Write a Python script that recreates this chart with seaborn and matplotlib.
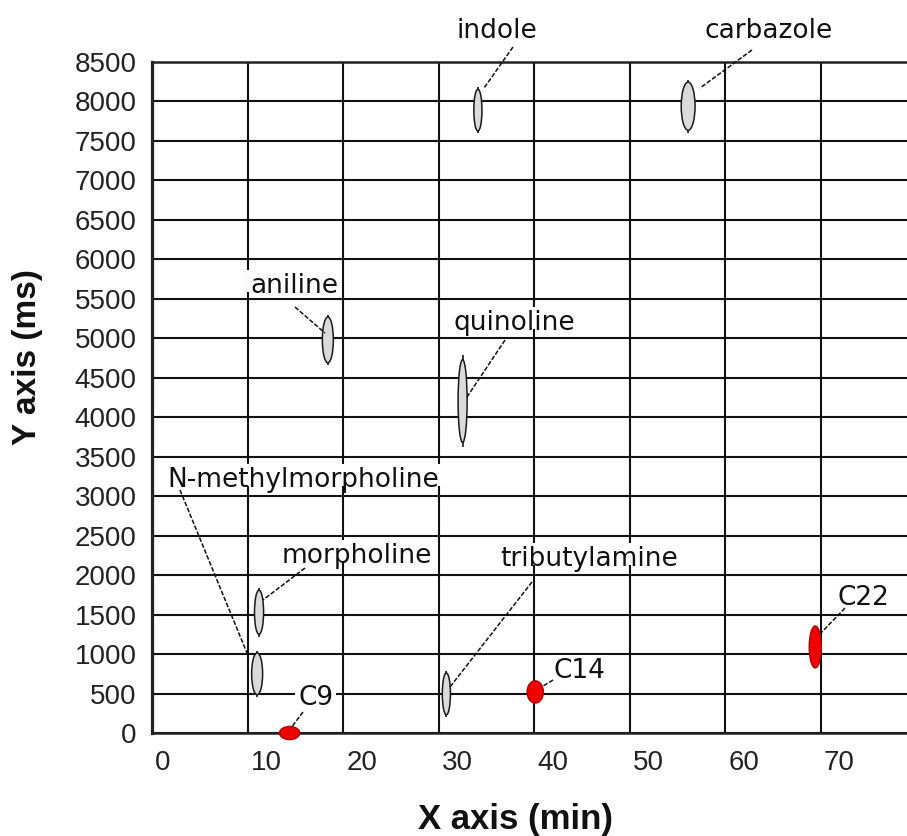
import matplotlib
matplotlib.use("Agg")
import matplotlib.pyplot as plt
import matplotlib.transforms as mtransforms
from matplotlib.patches import Ellipse, Rectangle
import seaborn as sns

# ---------------- data ----------------
compounds = ["indole", "carbazole", "aniline", "quinoline", "N-methylmorpholine",
             "morpholine", "tributylamine", "C9", "C14", "C22"]
x_min = [34.1, 56.1, 18.4, 32.5, 11.0, 11.2, 30.8, 14.4, 40.1, 69.4]
y_ms = [7890, 7940, 4980, 4205, 750, 1530, 495, 0, 520, 1090]
spot_width_min = [0.85, 1.45, 1.15, 0.95, 1.15, 0.95, 0.85, 2.1, 1.7, 1.25]
spot_height_ms = [530, 610, 580, 1050, 530, 560, 530, 165, 280, 530]
is_alkane = [False, False, False, False, False, False, False, True, True, True]

x_ticks = [0, 10, 20, 30, 40, 50, 60, 70]
y_ticks = list(range(0, 8501, 500))
x_label = "X axis (min)"
y_label = "Y axis (ms)"

# label layout (text anchor: left / baseline) and leader lines
label_pos = [(31.81, 8803), (57.86, 8803), (10.25, 5573), (31.50, 5105), (1.57, 3116),
             (13.60, 2153), (36.41, 2115), (15.28, 355), (41.96, 697), (71.68, 1621)]
leader_start = [(37.77, 8690), (62.78, 8652), (14.96, 5396), (36.94, 4978), (2.93, 3078),
                (16.01, 2090), (39.76, 1913), (15.80, 266), (41.96, 671), (72.51, 1583)]
leader_end = [(34.74, 8170), (57.34, 8170), (18.10, 5067), (32.96, 4256), (9.94, 1013),
              (11.61, 1685), (31.18, 583), (14.54, 63), (40.91, 595), (70.0, 1267)]

# ---------------- style ----------------
sns.set_theme(style="white")
plt.rcParams["font.family"] = ["DejaVu Sans"]

fig = plt.figure(figsize=(9.07, 8.36), dpi=100)
ax = fig.add_axes([152 / 907, 1 - 733 / 836, 1 - 152 / 907, (733 - 62) / 836])

ax.set_xlim(0, 79.0)
ax.set_ylim(0, 8500)

ax.set_xticks(x_ticks, labels=[str(t) for t in x_ticks])
ax.set_yticks(y_ticks, labels=[str(t) for t in y_ticks])
ax.tick_params(axis="both", length=0, labelsize=20, labelcolor="#222222")
ax.tick_params(axis="x", pad=12)
ax.tick_params(axis="y", pad=11)
for lab in ax.get_xticklabels() + ax.get_yticklabels():
    lab.set_fontfamily("Liberation Sans")
offset = mtransforms.ScaledTranslation(3 / 100, 0, fig.dpi_scale_trans)
for lab in ax.get_xticklabels():
    lab.set_horizontalalignment("left")
    lab.set_transform(lab.get_transform() + offset)

ax.set_axisbelow(True)
ax.grid(True, color="#111111", linewidth=1.5)
sns.despine(ax=ax, top=False, right=True, left=False, bottom=False)
for side in ["left", "bottom", "top"]:
    ax.spines[side].set_color("#222222")
    ax.spines[side].set_linewidth(1.8)
ax.spines["left"].set_linewidth(2.3)

# ---------------- spots ----------------
for xi, yi, w, h, alk in zip(x_min, y_ms, spot_width_min, spot_height_ms, is_alkane):
    if alk:
        fc, ec = "#f00000", "#b00000"
    else:
        fc, ec = "#dadada", "#1a1a1a"
    e = Ellipse((xi, yi), w, h, facecolor=fc, edgecolor=ec, linewidth=1.1,
                zorder=3, clip_on=False)
    ax.add_patch(e)
    if not alk:
        for s in (1, -1):
            ax.plot([xi, xi], [yi + s * h / 2, yi + s * h / 2 * 1.1], color="#1a1a1a",
                    linewidth=1.2, zorder=3, solid_capstyle="butt")

# ---------------- labels + leaders ----------------
texts = []
for name, (tx, ty), (sx, sy), (ex, ey) in zip(compounds, label_pos, leader_start, leader_end):
    t = ax.text(tx, ty, name, fontsize=19, color="#111111", ha="left", va="baseline",
                zorder=4, clip_on=False)
    texts.append(t)
    ax.plot([sx, ex], [sy, ey], color="#111111", linewidth=1.1, linestyle=(0, (3, 1.2)),
            zorder=5, clip_on=False)

# white masks behind labels (from baseline upward, as in the original figure)
fig.canvas.draw()
renderer = fig.canvas.get_renderer()
inv = ax.transData.inverted()
for t, (tx, ty) in zip(texts, label_pos):
    bb = t.get_window_extent(renderer=renderer)
    base_y = ax.transData.transform((tx, ty))[1]
    x0, y0 = inv.transform((bb.x0 - 3, base_y + 1))
    x1, y1 = inv.transform((bb.x1 + 3, bb.y1 + 3))
    ax.add_patch(Rectangle((x0, y0), x1 - x0, y1 - y0, facecolor="white",
                           edgecolor="none", zorder=2.2, clip_on=False))

# ---------------- axis titles ----------------
fig.text(28 / 907, 1 - 357 / 836, y_label, rotation=90, ha="center", va="center",
         fontsize=24, fontweight="bold", family="Liberation Sans", color="#111111")
fig.text(515 / 907, 1 - 829 / 836, x_label, ha="center", va="baseline",
         fontsize=25, fontweight="bold", family="Liberation Sans", color="#111111")

fig.savefig("out.png", dpi=100, facecolor="white")
